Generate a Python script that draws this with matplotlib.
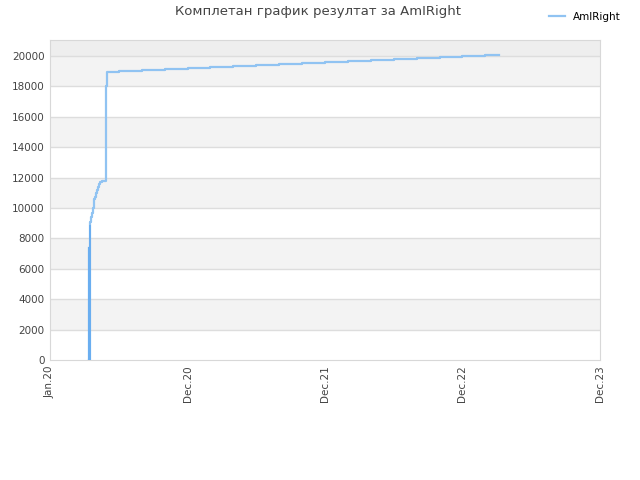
import numpy as np
import matplotlib
matplotlib.use('Agg')
import matplotlib.pyplot as plt

# months counted from the "Jan.20" tick
months = [3.44, 3.47, 3.52, 3.60, 3.70, 3.76, 3.82, 3.93, 4.01, 4.13, 4.22, 4.30, 4.36, 4.56,
          4.86, 4.95, 6, 8, 10, 12, 14, 16, 18, 20, 22, 24, 26, 28, 30, 32, 34, 36, 38, 39.2]
values = [0, 8820, 9100, 9430, 9700, 10000, 10590, 10720, 10990, 11180, 11400, 11600, 11730, 11800,
          18000, 18970, 19035, 19100, 19165, 19230, 19300, 19365, 19430, 19495, 19560, 19630,
          19695, 19760, 19825, 19890, 19955, 20020, 20085, 20085]

tick_pos = [0, 12, 24, 36, 48]
tick_labels = ['Jan.20', 'Dec.20', 'Dec.21', 'Dec.22', 'Dec.23']
y_ticks = list(range(0, 20001, 2000))

fig = plt.figure(figsize=(6.4, 4.8), dpi=100)
ax = fig.add_axes([50/640, 120/480, 550/640, 320/480])

ymax = 21050
# alternating bands
for lo in range(2000, 20000, 4000):
    ax.axhspan(lo, lo + 2000, color='#f3f3f3', zorder=0, lw=0)
ax.axhspan(20000, ymax, color='#eeeeee', zorder=0, lw=0)
for yv in y_ticks[1:]:
    ax.axhline(yv, color='#dddddd', lw=1, zorder=1)

ax.plot(months, values, drawstyle='steps-post', color='#90c3f2', lw=1.6, zorder=3, label='AmIRight')
# dense early part looks darker
ax.plot([3.42, 3.42], [0, 7370], color='#6aaef0', lw=1.6, zorder=4)
ax.plot([3.47, 3.47], [0, 8820], color='#6aaef0', lw=1.4, zorder=4)

ax.set_xlim(0, 48)
ax.set_ylim(0, ymax)
ax.set_xticks(tick_pos)
ax.set_xticklabels(tick_labels, rotation=90)
ax.set_yticks(y_ticks)
ax.tick_params(axis='both', labelsize=7.5, colors='#444444', length=0, pad=4)
for s in ax.spines.values():
    s.set_color('#d8d8d8')

fig.text(0.497, 0.975, 'Комплетан график резултат за AmIRight', ha='center', va='center',
         fontsize=9.5, color='#444444')
leg = fig.legend(loc='upper right', bbox_to_anchor=(0.985, 0.995), frameon=False,
                 fontsize=7.5, handlelength=1.5)

fig.savefig('out.png', dpi=100)
